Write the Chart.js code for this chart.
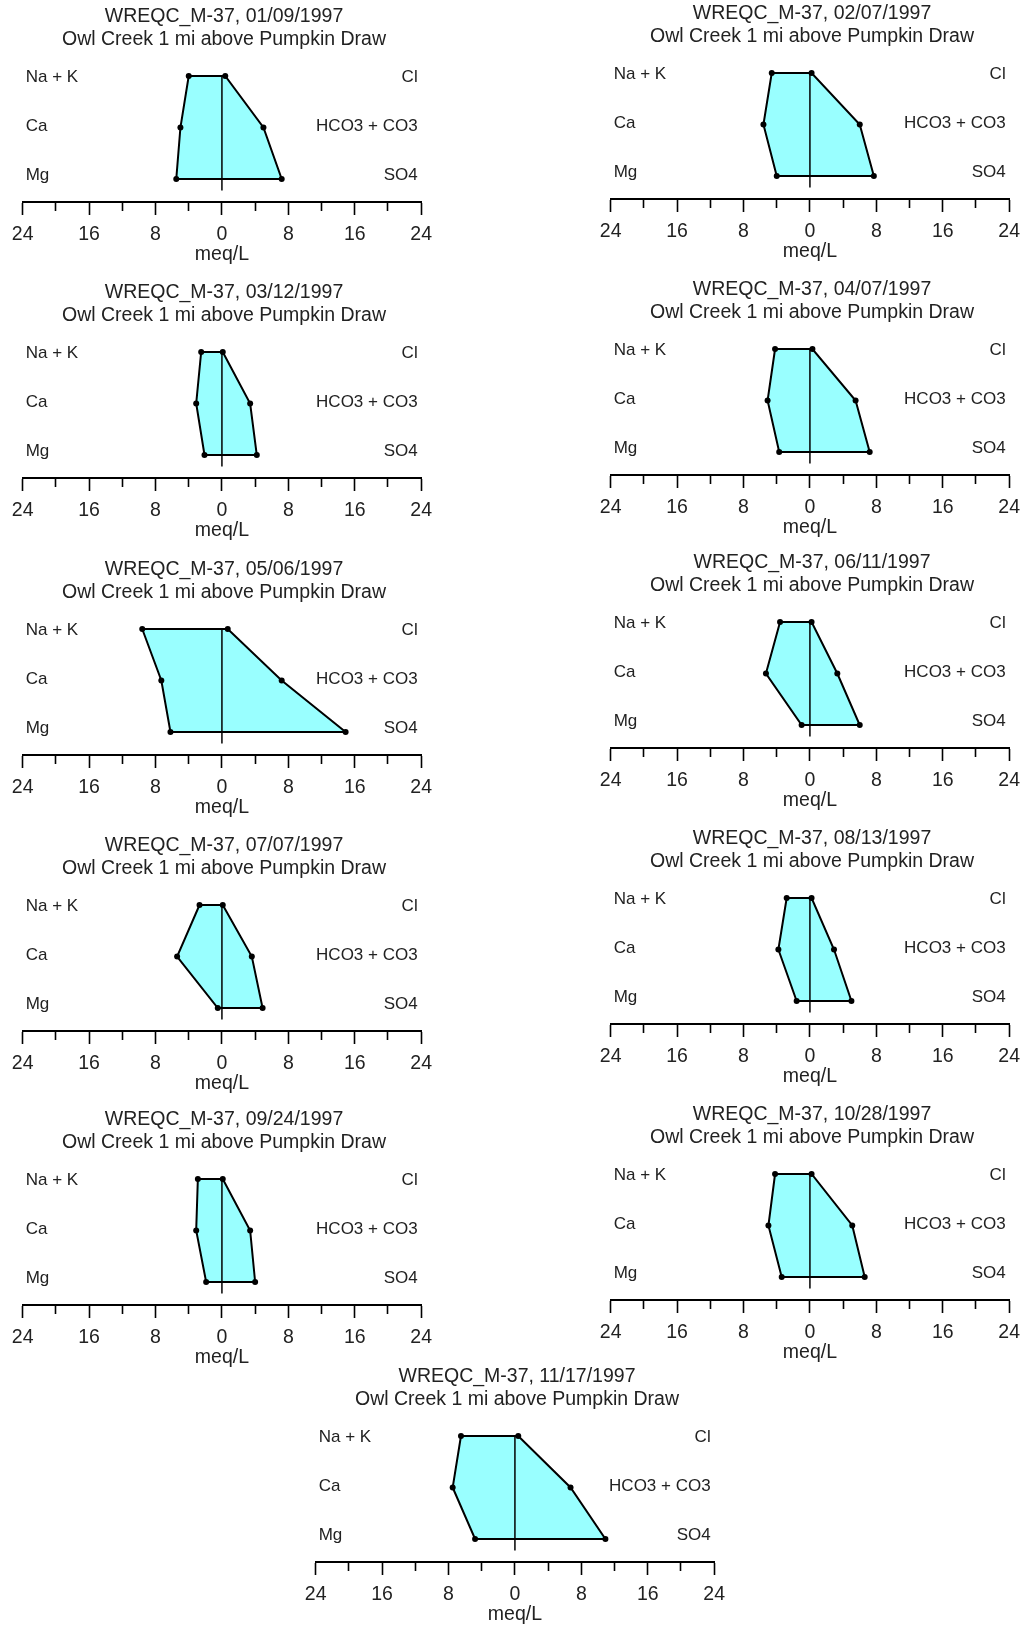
<!DOCTYPE html>
<html>
<head>
<meta charset="utf-8">
<title>Stiff diagrams – WREQC_M-37</title>
<script src="https://cdn.jsdelivr.net/npm/chart.js@4/dist/chart.umd.min.js"></script>
<style>
  html, body { margin: 0; padding: 0; background: #fff; }
  #sheet { position: relative; width: 1029px; height: 1625px; overflow: hidden; }
  #sheet canvas { position: absolute; }
</style>
</head>
<body>
<div id="sheet"></div>
<script>
// ---- sample data (meq/L) ----
const station = 'WREQC_M-37';
const siteName = 'Owl Creek 1 mi above Pumpkin Draw';
const sampleDates = ['01/09/1997', '02/07/1997', '03/12/1997', '04/07/1997', '05/06/1997', '06/11/1997',
                     '07/07/1997', '08/13/1997', '09/24/1997', '10/28/1997', '11/17/1997'];
// cations (plotted to the left)
const naK  = [4.0, 4.6, 2.5, 4.2, 9.6, 3.6, 2.7, 2.8, 2.9, 4.2, 6.5];
const ca   = [5.0, 5.6, 3.1, 5.1, 7.3, 5.3, 5.4, 3.8, 3.1, 5.0, 7.5];
const mg   = [5.5, 4.0, 2.1, 3.7, 6.2, 1.0, 0.5, 1.6, 1.9, 3.4, 4.8];
// anions (plotted to the right)
const cl   = [0.4, 0.2, 0.1, 0.3, 0.7, 0.2, 0.1, 0.2, 0.1, 0.2, 0.4];
const hco3 = [5.0, 6.0, 3.4, 5.5, 7.2, 3.3, 3.6, 2.9, 3.4, 5.1, 6.7];
const so4  = [7.2, 7.7, 4.2, 7.2, 14.9, 6.0, 4.9, 5.0, 4.0, 6.6, 10.9];

const cationLabels = ['Na + K', 'Ca', 'Mg'];
const anionLabels  = ['Cl', 'HCO3 + CO3', 'SO4'];
const axisLimit = 24;   // meq/L either side of zero
const tickStep = 4;
const labelStep = 8;
const axisTitle = 'meq/L';

// ---- layout ----
const FONT = '"Liberation Sans", Arial, Helvetica, sans-serif';
const TEXT = '#222';
const W = 440, H = 276;           // canvas size of one diagram
const PAD_L = 22.7, PAD_R = 14.7; // horizontal extent of the meq/L axis
const AXIS_Y = 202;               // pixel row of the axis line inside a canvas
const TITLE_H = 51.5;             // two title lines + top padding
const ROW_GAP = 51.5;             // distance between ion rows
const ROW1_ABOVE_AXIS = 126;      // first ion row above the axis line
const NAME_GAP = 49.2;            // distance between ion names
const NAME_SHIFT = 1.3;           // ion names start a little below the first row
const Y_MIN = -(AXIS_Y - ROW1_ABOVE_AXIS - TITLE_H) / ROW_GAP;
const Y_MAX = ROW1_ABOVE_AXIS / ROW_GAP;

// canvas placement of each diagram in date order (left column, right column, last one centred)
const slots = [
  { left: 0,     axis: 201.7 }, { left: 588.3, axis: 199.3 },
  { left: 0,     axis: 478.3 }, { left: 588.3, axis: 475.0 },
  { left: 0,     axis: 755.0 }, { left: 588.3, axis: 747.7 },
  { left: 0,     axis: 1031.3 }, { left: 588.3, axis: 1024.0 },
  { left: 0,     axis: 1305.3 }, { left: 588.3, axis: 1300.0 },
  { left: 293.3, axis: 1561.7 }
];

// centre line and ion names
const stiffDecor = {
  id: 'stiffDecor',
  afterDatasetsDraw(chart) {
    const { ctx, chartArea, scales: { x, y } } = chart;
    const x0 = x.getPixelForValue(0);
    ctx.save();
    ctx.strokeStyle = '#000';
    ctx.lineWidth = 1.5;
    ctx.beginPath();
    ctx.moveTo(x0, y.getPixelForValue(0));
    ctx.lineTo(x0, y.getPixelForValue(cationLabels.length - 1) + 11.5);
    ctx.stroke();

    const top = y.getPixelForValue(0) + NAME_SHIFT;
    ctx.font = '17px ' + FONT;
    ctx.fillStyle = TEXT;
    ctx.textBaseline = 'middle';
    ctx.textAlign = 'left';
    cationLabels.forEach((t, i) => ctx.fillText(t, chartArea.left + 3, top + i * NAME_GAP));
    ctx.textAlign = 'right';
    anionLabels.forEach((t, i) => ctx.fillText(t, chartArea.right - 3.5, top + i * NAME_GAP));
    ctx.restore();
  }
};

const sheet = document.getElementById('sheet');

sampleDates.forEach((date, i) => {
  const slot = slots[i];
  const canvas = document.createElement('canvas');
  canvas.width = W;
  canvas.height = H;
  canvas.style.left = slot.left + 'px';
  canvas.style.top = Math.round(slot.axis - AXIS_Y) + 'px';
  sheet.appendChild(canvas);

  // closed outline: cations down the left side, anions back up the right side
  const outline = [
    { x: -naK[i], y: 0 }, { x: -ca[i], y: 1 }, { x: -mg[i], y: 2 },
    { x: so4[i], y: 2 }, { x: hco3[i], y: 1 }, { x: cl[i], y: 0 },
    { x: -naK[i], y: 0 }
  ];

  new Chart(canvas, {
    type: 'scatter',
    data: {
      datasets: [{
        data: outline,
        showLine: true,
        fill: 'shape',
        backgroundColor: '#99ffff',
        borderColor: '#000',
        borderWidth: 2,
        tension: 0,
        pointRadius: (c) => (c.dataIndex === outline.length - 1 ? 0 : 3),
        pointBackgroundColor: '#000',
        pointBorderWidth: 0,
        pointHoverRadius: 0
      }]
    },
    options: {
      responsive: false,
      animation: false,
      devicePixelRatio: 1,
      layout: { padding: { left: PAD_L, right: PAD_R, top: 0, bottom: 0 } },
      plugins: {
        legend: { display: false },
        tooltip: { enabled: false },
        title: {
          display: true,
          text: [station + ', ' + date, siteName],
          color: TEXT,
          font: { family: FONT, size: 19.5, weight: 'normal', lineHeight: '23px' },
          padding: { top: 5.5, bottom: 0 }
        }
      },
      scales: {
        x: {
          type: 'linear',
          position: 'bottom',
          min: -axisLimit,
          max: axisLimit,
          afterFit: (axis) => { axis.height = H - AXIS_Y; },
          border: { display: true, color: '#000', width: 2 },
          grid: {
            display: true,
            drawOnChartArea: false,
            drawTicks: true,
            tickLength: 13,
            tickWidth: 1.6,
            tickColor: '#000',
            tickBorderDash: (c) => (c.tick && c.tick.value % labelStep === 0 ? [] : [8, 40])
          },
          ticks: {
            stepSize: tickStep,
            autoSkip: false,
            maxRotation: 0,
            padding: 8,
            color: TEXT,
            font: { family: FONT, size: 19.5, lineHeight: '23px' },
            callback: (v) => (v % labelStep === 0 ? String(Math.abs(v)) : '')
          },
          title: {
            display: true,
            text: axisTitle,
            color: TEXT,
            font: { family: FONT, size: 19.5, lineHeight: '23px' },
            padding: { top: 0, bottom: 9.5 }
          }
        },
        y: {
          type: 'linear',
          display: false,
          reverse: true,
          min: Y_MIN,
          max: Y_MAX
        }
      }
    },
    plugins: [stiffDecor]
  });
});
</script>
</body>
</html>
